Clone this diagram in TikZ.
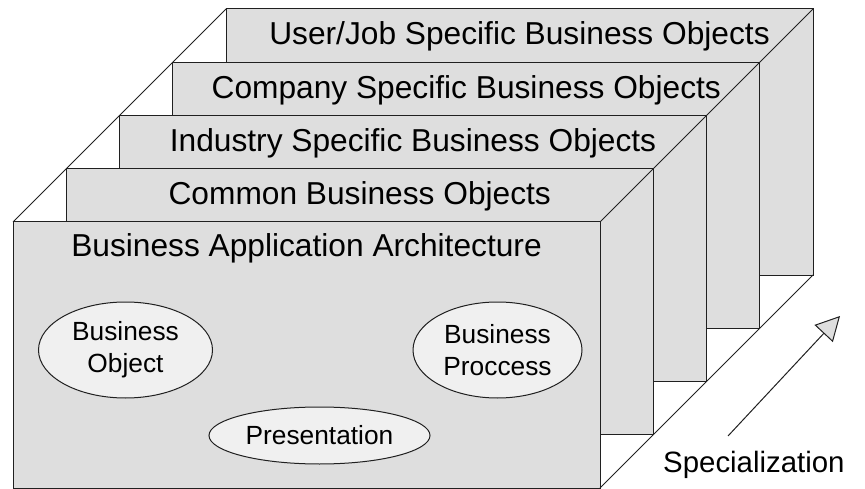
\documentclass[tikz,border=0pt]{standalone}
\usepackage{fontspec}
\setmainfont{Liberation Sans}
\usetikzlibrary{calc,shapes.geometric,arrows.meta}
\definecolor{panelfill}{HTML}{DEDEDE}
\definecolor{ovalfill}{HTML}{F0F0F0}
\definecolor{edge}{HTML}{202020}
\tikzset{
  panel/.style={rectangle, draw=edge, fill=panelfill, line width=1pt,
    minimum width=587pt, minimum height=266pt, inner sep=0pt, outer sep=0pt,
    anchor=north west},
  paneltext/.style={anchor=base, inner sep=0pt, font=\fontsize{31.7}{38}\selectfont},
  oval/.style={ellipse, draw=edge, fill=ovalfill, line width=1pt, inner sep=0pt,
    align=center, font=\fontsize{26.3}{32}\selectfont},
  edgeline/.style={draw=edge, line width=1pt},
}
\begin{document}
\begin{tikzpicture}[x=1pt,y=-1pt]
\useasboundingbox (0,0) rectangle (865,489);
% panels back to front
\node[panel] (p4) at (226,9) {};
\node[paneltext] (t4) at ($(p4.north)+(0,36)$) {User/Job Specific Business Objects};
\node[panel] (p3) at (172.75,62.25) {};
\node[paneltext] (t3) at ($(p3.north)+(0,36)$) {Company Specific Business Objects};
\node[panel] (p2) at (119.5,115.5) {};
\node[paneltext] (t2) at ($(p2.north)+(0,36)$) {Industry Specific Business Objects};
\node[panel] (p1) at (66.25,168.75) {};
\node[paneltext] (t1) at ($(p1.north)+(0,36)$) {Common Business Objects};
\node[panel] (p0) at (13,222) {};
\node[paneltext] (t0) at ($(p0.north)+(0,35)$) {Business Application Architecture};
% receding edges
\draw[edgeline] (p0.north west) -- (p4.north west);
\draw[edgeline] (p0.north east) -- (p4.north east);
\draw[edgeline] (p0.south east) -- (p4.south east);
% ovals
\node[oval, minimum width=174pt, minimum height=96pt] (bo) at (125.5,350) {Business\\Object};
\node[oval, minimum width=169pt, minimum height=96pt] (bp) at (497.5,350) {Business\\Proccess};
\node[oval, minimum width=221pt, minimum height=57pt] (pr) at (319.5,435.5) {Presentation};
% specialization arrow
\coordinate (sa) at (728,436);
\coordinate (sb) at (840,316);
\draw[edgeline, -{Triangle[length=24pt 0 0,width=25pt 0 0,fill=panelfill,line width=1pt]}] (sa) -- (sb);
\node[anchor=base west, inner sep=0pt, font=\fontsize{29.4}{35}\selectfont] (sp) at (663,472) {Specialization};
\end{tikzpicture}
\end{document}
